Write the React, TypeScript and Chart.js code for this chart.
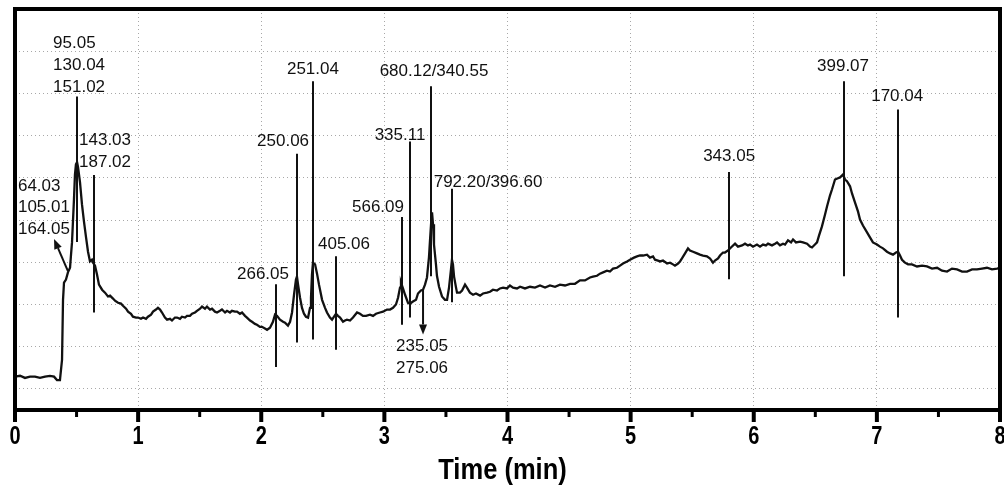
import React, { useEffect, useRef } from "react";
import { Chart, registerables } from "chart.js";

Chart.register(...registerables);

// Retention time (min) and detector signal (grid units)
const TIME_MIN = [
  0, 0.041, 0.081, 0.122, 0.162, 0.203, 0.244, 0.284, 0.317, 0.341, 0.365, 0.382, 0.39, 0.398, 0.414, 0.43, 0.447, 0.455, 0.463, 0.479,
  0.487, 0.495, 0.504, 0.512, 0.528, 0.544, 0.56, 0.577, 0.593, 0.609, 0.625, 0.634, 0.65, 0.666, 0.682, 0.707, 0.731, 0.755, 0.772, 0.796,
  0.812, 0.837, 0.861, 0.877, 0.902, 0.918, 0.942, 0.958, 0.983, 0.999, 1.023, 1.04, 1.064, 1.08, 1.105, 1.121, 1.145, 1.161, 1.178, 1.194,
  1.218, 1.235, 1.259, 1.275, 1.299, 1.316, 1.34, 1.356, 1.381, 1.397, 1.421, 1.438, 1.462, 1.478, 1.503, 1.519, 1.543, 1.559, 1.584, 1.6,
  1.624, 1.641, 1.665, 1.681, 1.706, 1.722, 1.746, 1.762, 1.787, 1.803, 1.827, 1.844, 1.868, 1.884, 1.909, 1.925, 1.949, 1.965, 1.99, 2.006,
  2.03, 2.047, 2.071, 2.095, 2.112, 2.128, 2.152, 2.177, 2.193, 2.217, 2.234, 2.25, 2.266, 2.282, 2.29, 2.299, 2.315, 2.331, 2.347, 2.363,
  2.38, 2.396, 2.404, 2.412, 2.42, 2.437, 2.453, 2.469, 2.494, 2.518, 2.534, 2.558, 2.575, 2.591, 2.607, 2.623, 2.64, 2.664, 2.68, 2.696,
  2.721, 2.745, 2.778, 2.802, 2.826, 2.851, 2.883, 2.908, 2.932, 2.964, 2.989, 3.021, 3.046, 3.07, 3.094, 3.111, 3.127, 3.135, 3.151, 3.168,
  3.192, 3.208, 3.232, 3.257, 3.273, 3.297, 3.314, 3.33, 3.346, 3.362, 3.371, 3.379, 3.387, 3.395, 3.403, 3.419, 3.427, 3.444, 3.468, 3.492,
  3.509, 3.525, 3.541, 3.549, 3.557, 3.566, 3.582, 3.59, 3.614, 3.631, 3.655, 3.671, 3.695, 3.72, 3.744, 3.777, 3.801, 3.834, 3.858, 3.882,
  3.915, 3.939, 3.964, 3.996, 4.02, 4.045, 4.077, 4.102, 4.142, 4.183, 4.223, 4.264, 4.305, 4.345, 4.386, 4.426, 4.467, 4.508, 4.548, 4.589,
  4.629, 4.67, 4.694, 4.727, 4.751, 4.776, 4.808, 4.832, 4.857, 4.889, 4.914, 4.938, 4.971, 4.995, 5.027, 5.052, 5.076, 5.101, 5.133, 5.157,
  5.182, 5.198, 5.222, 5.239, 5.263, 5.296, 5.32, 5.344, 5.36, 5.385, 5.401, 5.417, 5.442, 5.466, 5.482, 5.507, 5.539, 5.563, 5.588, 5.62,
  5.645, 5.669, 5.685, 5.71, 5.726, 5.75, 5.766, 5.791, 5.815, 5.848, 5.872, 5.905, 5.929, 5.953, 5.97, 5.994, 6.026, 6.051, 6.075, 6.099,
  6.116, 6.148, 6.173, 6.189, 6.213, 6.238, 6.254, 6.278, 6.303, 6.319, 6.343, 6.376, 6.4, 6.433, 6.457, 6.473, 6.497, 6.514, 6.53, 6.554,
  6.579, 6.595, 6.619, 6.636, 6.66, 6.684, 6.701, 6.725, 6.741, 6.757, 6.782, 6.798, 6.822, 6.847, 6.863, 6.887, 6.92, 6.944, 6.968, 7.001,
  7.025, 7.05, 7.082, 7.107, 7.131, 7.155, 7.172, 7.188, 7.204, 7.228, 7.253, 7.285, 7.326, 7.367, 7.407, 7.448, 7.489, 7.529, 7.57, 7.61,
  7.651, 7.692, 7.732, 7.773, 7.813, 7.854, 7.894, 7.935, 7.976, 8.0,
];

const SIGNAL = [
  0.29, 0.31, 0.26, 0.29, 0.29, 0.26, 0.29, 0.31, 0.29, 0.21, 0.21, 0.69, 2.11, 2.52, 2.59, 2.76, 2.87, 3.18, 3.47, 4.49,
  5.08, 5.32, 5.37, 5.25, 4.89, 4.37, 3.97, 3.59, 3.25, 3.02, 3.06, 2.99, 2.92, 2.71, 2.47, 2.35, 2.28, 2.19, 2.21, 2.14,
  2.09, 2.04, 2.02, 1.97, 1.9, 1.83, 1.78, 1.71, 1.69, 1.69, 1.66, 1.69, 1.66, 1.71, 1.76, 1.83, 1.88, 1.92, 1.88, 1.81,
  1.69, 1.64, 1.66, 1.62, 1.69, 1.69, 1.66, 1.71, 1.69, 1.73, 1.73, 1.78, 1.81, 1.85, 1.9, 1.95, 1.9, 1.95, 1.88, 1.9,
  1.83, 1.81, 1.85, 1.88, 1.81, 1.85, 1.81, 1.85, 1.83, 1.83, 1.78, 1.81, 1.73, 1.69, 1.62, 1.59, 1.54, 1.52, 1.47, 1.47,
  1.43, 1.4, 1.45, 1.59, 1.76, 1.73, 1.64, 1.59, 1.57, 1.5, 1.59, 1.81, 2.23, 2.59, 2.66, 2.47, 2.16, 1.92, 1.78, 1.71,
  1.69, 1.92, 2.16, 2.71, 2.99, 2.95, 2.73, 2.47, 2.11, 1.92, 1.81, 1.69, 1.64, 1.71, 1.78, 1.73, 1.69, 1.59, 1.62, 1.64,
  1.62, 1.69, 1.81, 1.78, 1.73, 1.73, 1.76, 1.73, 1.78, 1.81, 1.83, 1.88, 1.88, 1.92, 2.0, 2.16, 2.4, 2.52, 2.38, 2.23,
  2.04, 2.02, 2.07, 2.11, 2.26, 2.33, 2.35, 2.47, 2.64, 3.11, 3.54, 3.9, 4.18, 3.9, 3.42, 2.95, 2.68, 2.42, 2.19, 2.11,
  2.11, 2.4, 2.83, 3.06, 2.95, 2.66, 2.4, 2.28, 2.28, 2.33, 2.47, 2.4, 2.28, 2.23, 2.26, 2.21, 2.26, 2.28, 2.3, 2.35,
  2.33, 2.38, 2.4, 2.38, 2.45, 2.4, 2.38, 2.42, 2.38, 2.42, 2.4, 2.45, 2.4, 2.45, 2.42, 2.47, 2.45, 2.49, 2.49, 2.57,
  2.57, 2.64, 2.66, 2.68, 2.73, 2.76, 2.8, 2.78, 2.85, 2.87, 2.92, 2.97, 3.02, 3.06, 3.11, 3.14, 3.16, 3.16, 3.18, 3.11,
  3.14, 3.06, 3.04, 3.02, 3.04, 2.97, 2.99, 2.95, 2.92, 2.97, 3.02, 3.09, 3.21, 3.33, 3.28, 3.25, 3.21, 3.18, 3.16, 3.14,
  3.09, 2.99, 3.04, 3.09, 3.16, 3.23, 3.23, 3.28, 3.35, 3.44, 3.37, 3.4, 3.44, 3.4, 3.42, 3.37, 3.42, 3.37, 3.42, 3.4,
  3.44, 3.4, 3.44, 3.47, 3.4, 3.44, 3.42, 3.52, 3.47, 3.54, 3.47, 3.49, 3.47, 3.44, 3.37, 3.35, 3.42, 3.47, 3.63, 3.85,
  4.13, 4.32, 4.58, 4.73, 4.96, 4.99, 5.01, 5.08, 4.96, 4.92, 4.8, 4.63, 4.42, 4.2, 4.01, 3.87, 3.71, 3.59, 3.47, 3.42,
  3.37, 3.33, 3.25, 3.21, 3.18, 3.23, 3.25, 3.16, 3.06, 2.99, 2.95, 2.95, 2.9, 2.92, 2.9, 2.85, 2.87, 2.8, 2.78, 2.85,
  2.83, 2.78, 2.78, 2.83, 2.83, 2.85, 2.87, 2.83, 2.85, 2.87,
];

const X_MAJOR_TICKS = [0, 1, 2, 3, 4, 5, 6, 7, 8];
const X_TICK_LABELS = ["0", "1", "2", "3", "4", "5", "6", "7", "8"];
const X_MINOR_TICKS = [0.5, 1.5, 2.5, 3.5, 4.5, 5.5, 6.5, 7.5];
const Y_GRID = [0, 1, 2, 3, 4, 5, 6, 7, 8];
const X_TITLE = "Time (min)";

// Peak marker lines (time, top, bottom)
const MARKER_TIMES = [0.504, 0.642, 2.12, 2.29, 2.42, 2.607, 3.143, 3.208, 3.379, 3.549, 5.8, 6.733, 7.17];
const MARKER_TOP = [6.93, 5.07, 2.48, 5.57, 7.29, 3.14, 4.07, 5.86, 7.17, 4.74, 5.14, 7.29, 6.62];
const MARKER_BOTTOM = [3.48, 1.81, 0.52, 1.1, 1.17, 0.93, 1.52, 1.69, 2.67, 2.05, 2.6, 2.67, 1.69];

// m/z labels
const LABEL_TEXT = [
  "95.05", "130.04", "151.02", "143.03", "187.02", "64.03", "105.01", "164.05",
  "251.04", "250.06", "266.05", "405.06", "566.09", "335.11", "680.12/340.55", "792.20/396.60",
  "235.05", "275.06", "343.05", "399.07", "170.04",
];
const LABEL_TIME = [
  0.309, 0.309, 0.309, 0.52, 0.52, 0.024, 0.024, 0.024,
  2.42, 2.177, 2.014, 2.672, 2.948, 3.127, 3.403, 3.842,
  3.306, 3.306, 5.8, 6.725, 7.165,
];
const LABEL_Y = [
  8.19, 7.67, 7.14, 5.88, 5.36, 4.81, 4.29, 3.79,
  7.57, 5.86, 2.71, 3.43, 4.31, 6.0, 7.52, 4.9,
  1.0, 0.48, 5.52, 7.64, 6.93,
];
const LABEL_ALIGN = [
  "left", "left", "left", "left", "left", "left", "left", "left",
  "center", "center", "center", "center", "center", "center", "center", "center",
  "center", "center", "center", "center", "center",
];

// Arrows (from -> to, tip at "to")
const ARROW_FROM_T = [0.43, 3.314];
const ARROW_FROM_Y = [2.79, 2.36];
const ARROW_TO_T = [0.317, 3.314];
const ARROW_TO_Y = [3.55, 1.29];

const SANS = '"Liberation Sans", Arial, sans-serif';

function drawCondensed(ctx: any, text: string, cx: number, cy: number, font: string, sx: number) {
  ctx.save();
  ctx.font = font;
  ctx.textAlign = "center";
  ctx.textBaseline = "middle";
  ctx.translate(cx, cy);
  ctx.scale(sx, 1);
  ctx.fillText(text, 0, 0);
  ctx.restore();
}

const overlayPlugin = {
  id: "overlay",
  afterDatasetsDraw(chart: any) {
    const { ctx, chartArea: a } = chart;
    const x = chart.scales.x;
    const y = chart.scales.y;
    ctx.save();
    ctx.strokeStyle = "#111";
    ctx.fillStyle = "#111";
    ctx.lineCap = "butt";

    // marker lines
    ctx.lineWidth = 2;
    MARKER_TIMES.forEach((t, i) => {
      const px = Math.round(x.getPixelForValue(t));
      ctx.beginPath();
      ctx.moveTo(px, y.getPixelForValue(MARKER_TOP[i]));
      ctx.lineTo(px, y.getPixelForValue(MARKER_BOTTOM[i]));
      ctx.stroke();
    });

    // arrows
    ARROW_FROM_T.forEach((t, i) => {
      const x1 = x.getPixelForValue(t);
      const y1 = y.getPixelForValue(ARROW_FROM_Y[i]);
      const x2 = x.getPixelForValue(ARROW_TO_T[i]);
      const y2 = y.getPixelForValue(ARROW_TO_Y[i]);
      const ang = Math.atan2(y2 - y1, x2 - x1);
      const len = 10;
      const bx = x2 - Math.cos(ang) * len;
      const by = y2 - Math.sin(ang) * len;
      ctx.lineWidth = 2;
      ctx.beginPath();
      ctx.moveTo(x1, y1);
      ctx.lineTo(bx, by);
      ctx.stroke();
      ctx.beginPath();
      ctx.moveTo(x2, y2);
      ctx.lineTo(bx + Math.sin(ang) * 4, by - Math.cos(ang) * 4);
      ctx.lineTo(bx - Math.sin(ang) * 4, by + Math.cos(ang) * 4);
      ctx.closePath();
      ctx.fill();
    });

    // labels
    ctx.font = "17px " + SANS;
    ctx.textBaseline = "middle";
    LABEL_TEXT.forEach((txt, i) => {
      ctx.textAlign = LABEL_ALIGN[i];
      ctx.fillText(txt, x.getPixelForValue(LABEL_TIME[i]), y.getPixelForValue(LABEL_Y[i]));
    });

    // frame
    ctx.strokeStyle = "#000";
    ctx.fillStyle = "#000";
    ctx.lineWidth = 4;
    ctx.strokeRect(a.left, a.top, a.right - a.left, a.bottom - a.top);

    // tick marks
    ctx.lineWidth = 4;
    X_MAJOR_TICKS.forEach((v) => {
      const px = x.getPixelForValue(v);
      ctx.beginPath();
      ctx.moveTo(px, a.bottom);
      ctx.lineTo(px, a.bottom + 12);
      ctx.stroke();
    });
    ctx.lineWidth = 3;
    X_MINOR_TICKS.forEach((v) => {
      const px = x.getPixelForValue(v);
      ctx.beginPath();
      ctx.moveTo(px, a.bottom);
      ctx.lineTo(px, a.bottom + 7);
      ctx.stroke();
    });

    // tick labels and axis title (condensed bold)
    X_MAJOR_TICKS.forEach((v, i) => {
      drawCondensed(ctx, X_TICK_LABELS[i], x.getPixelForValue(v), a.bottom + 27, "bold 25px " + SANS, 0.8);
    });
    drawCondensed(ctx, X_TITLE, (a.left + a.right) / 2 - 5, a.bottom + 61, "bold 29px " + SANS, 0.88);
    ctx.restore();
  },
};

export default function App() {
  const canvasRef = useRef<HTMLCanvasElement | null>(null);

  useEffect(() => {
    const canvas = canvasRef.current;
    if (!canvas) return;
    const points = TIME_MIN.map((t, i) => ({ x: t, y: SIGNAL[i] }));
    const chart = new Chart(canvas, {
      type: "line",
      data: {
        datasets: [
          {
            data: points,
            borderColor: "#111",
            borderWidth: 2.3,
            pointRadius: 0,
            tension: 0,
            fill: false,
          },
        ],
      },
      options: {
        animation: false,
        responsive: false,
        devicePixelRatio: 1,
        layout: { padding: { left: 15, right: 4, top: 9, bottom: 78 } },
        plugins: { legend: { display: false }, tooltip: { enabled: false } },
        scales: {
          x: {
            type: "linear",
            min: 0,
            max: 8,
            afterBuildTicks: (s: any) => {
              s.ticks = X_MAJOR_TICKS.map((v) => ({ value: v }));
            },
            grid: { color: "#a8a8a8", lineWidth: 1, drawTicks: false },
            border: { display: false, dash: [1, 3] },
            ticks: { display: false },
            title: { display: false },
          },
          y: {
            type: "linear",
            min: -0.5,
            max: 9,
            afterBuildTicks: (s: any) => {
              s.ticks = Y_GRID.map((v) => ({ value: v }));
            },
            grid: { color: "#a8a8a8", lineWidth: 1, drawTicks: false },
            border: { display: false, dash: [1, 3] },
            ticks: { display: false },
          },
        },
      },
      plugins: [overlayPlugin],
    });
    return () => chart.destroy();
  }, []);

  return (
    <div style={{ position: "absolute", left: 0, top: 0, width: 1004, height: 488, background: "#fff" }}>
      <canvas ref={canvasRef} width={1004} height={488} />
    </div>
  );
}
